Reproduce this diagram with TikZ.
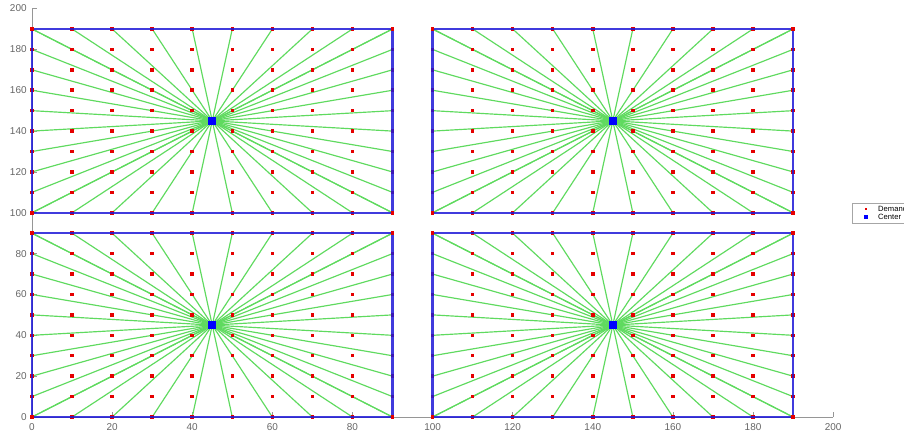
\documentclass[tikz,border=0pt]{standalone}
\usepackage{fontspec}
\setmainfont{Liberation Sans}
\usepackage{tikz}
\usetikzlibrary{positioning}
\definecolor{linkgreen}{RGB}{95,218,95}
\definecolor{zoneblue}{RGB}{30,25,215}
\definecolor{axisgray}{RGB}{150,150,150}
\tikzset{
  demand/.style={fill=red!90!black,inner sep=0pt,minimum size=0.105cm},
  hub/.style={fill=blue,inner sep=0pt,minimum size=0.25cm},
  link/.style={draw=linkgreen,line width=1pt},
  zone/.style={draw=zoneblue,draw opacity=0.85,line width=1.9pt},
  axis/.style={draw=axisgray,line width=0.5pt},
  ticklab/.style={font=\fontsize{8.5}{10}\selectfont,text=black!60,inner sep=1pt},
  legtext/.style={font=\fontsize{6.5}{7}\selectfont,anchor=west,inner sep=0pt},
}
\begin{document}
\begin{tikzpicture}[x=0.03cm,y=0.03cm]
\useasboundingbox (0,0) rectangle (904,434);
\clip (0,0) rectangle (904,434);
\begin{scope}[xshift=0.96cm,yshift=0.51cm,x=0.12016cm,y=0.06126cm]
% axes
\draw[axis] (0,200) -- (0,0) -- (200,0);
\foreach \t in {0,20,...,200} {
  \draw[axis] (0,\t) -- (1.2,\t);
  \draw[axis] (\t,0) -- (\t,2.5);
  \node[ticklab,anchor=east] (yl\t) at (-1,\t) {\t};
  \node[ticklab,anchor=north] (xl\t) at (\t,-2.5) {\t};
}
% four zones, each with its center
\foreach \r/\ox/\oy in {1/0/100,2/100/100,3/0/0,4/100/0} {
  \coordinate (c\r) at (\ox+45,\oy+45);
  \foreach \k in {0,...,9} {
    \coordinate (bs) at (\ox+10*\k,\oy);
    \coordinate (be) at (\ox+90,\oy+10*\k);
    \coordinate (bn) at (\ox+90-10*\k,\oy+90);
    \coordinate (bw) at (\ox,\oy+90-10*\k);
    \foreach \p in {bs,be,bn,bw} \draw[link] (c\r) -- (\p);
  }
  \foreach \i in {0,...,9}
    \foreach \j in {0,...,9}
      \node[demand] (d\r-\i-\j) at (\ox+10*\i,\oy+10*\j) {};
  \draw[zone] (\ox,\oy) rectangle (\ox+90,\oy+90);
  \foreach \a/\b in {0/0,90/0,0/90,90/90}
    \node[demand] (k\r-\a-\b) at (\ox+\a,\oy+\b) {};
  \node[hub] (m\r) at (c\r) {};
}
\end{scope}
% legend
\draw[draw=black!35,fill=white,line width=0.4pt] (852,211) rectangle (930,231);
\node[demand,minimum size=0.08cm] (ld) at (866,225) {};
\node[hub,minimum size=0.14cm] (lc) at (866,217) {};
\node[legtext] (ldt) at (878,225) {Demand};
\node[legtext] (lct) at (878,217) {Center};
\end{tikzpicture}
\end{document}
